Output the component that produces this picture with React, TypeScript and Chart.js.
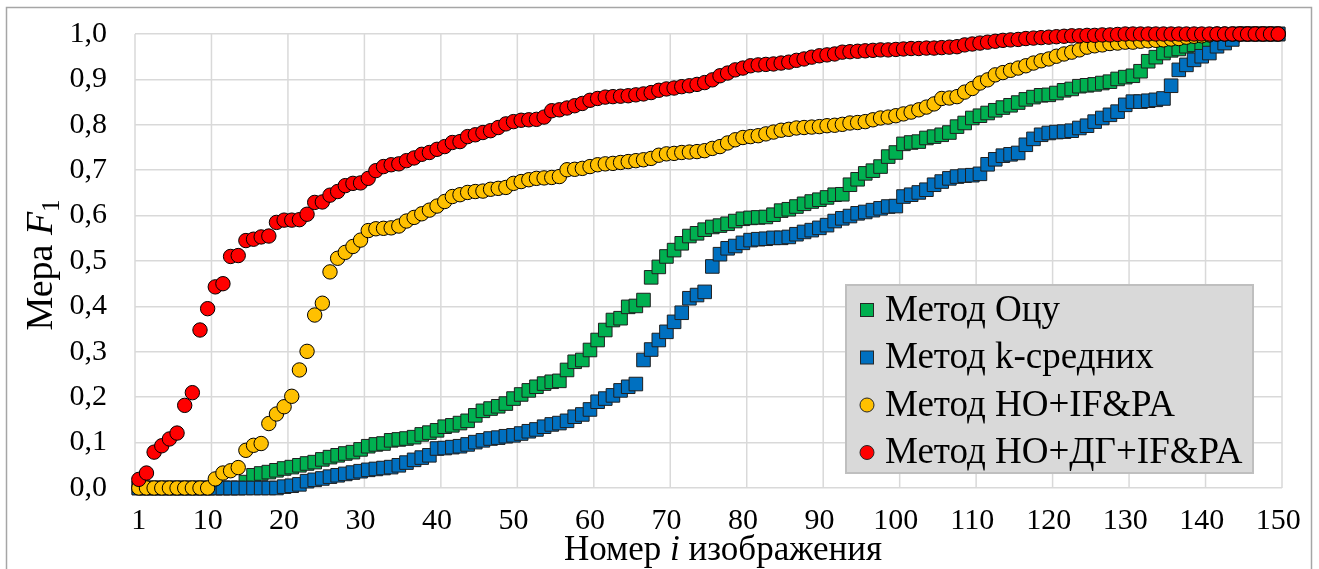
import React, { useEffect, useRef } from 'react';
import { Chart, registerables } from 'chart.js';

Chart.register(...registerables);

const FONT = '"Liberation Serif"';

// x categories: image numbers 1..150
const imageNumbers: number[] = Array.from({ length: 150 }, (_, i) => i + 1);

const xTickValues = [1, 10, 20, 30, 40, 50, 60, 70, 80, 90, 100, 110, 120, 130, 140, 150];
const xGridValues = [0.5, 10.5, 20.5, 30.5, 40.5, 50.5, 60.5, 70.5, 80.5, 90.5, 100.5, 110.5, 120.5, 130.5, 140.5, 150.5];

const seriesNames = ['Метод Оцу', 'Метод k-средних', 'Метод НО+IF&PA', 'Метод НО+ДГ+IF&PA'];
const seriesColors = ['#00b050', '#0070c0', '#ffc000', '#ff0000'];

const otsu = [
  0, 0, 0, 0, 0, 0, 0, 0, 0, 0,
  0, 0, 0, 0, 0.013, 0.028, 0.032, 0.035, 0.039, 0.043,
  0.046, 0.050, 0.054, 0.057, 0.063, 0.068, 0.072, 0.076, 0.079, 0.085,
  0.092, 0.096, 0.098, 0.105, 0.107, 0.109, 0.112, 0.118, 0.122, 0.127,
  0.135, 0.138, 0.143, 0.148, 0.160, 0.170, 0.175, 0.180, 0.186, 0.197,
  0.206, 0.215, 0.223, 0.230, 0.234, 0.236, 0.260, 0.278, 0.282, 0.304,
  0.326, 0.348, 0.370, 0.374, 0.399, 0.401, 0.414, 0.464, 0.487, 0.510,
  0.524, 0.539, 0.555, 0.561, 0.569, 0.575, 0.578, 0.582, 0.588, 0.593,
  0.595, 0.596, 0.597, 0.602, 0.611, 0.614, 0.620, 0.626, 0.631, 0.635,
  0.640, 0.646, 0.647, 0.668, 0.680, 0.693, 0.699, 0.708, 0.730, 0.739,
  0.758, 0.761, 0.763, 0.771, 0.774, 0.778, 0.783, 0.796, 0.804, 0.815,
  0.820, 0.826, 0.832, 0.838, 0.843, 0.849, 0.856, 0.861, 0.865, 0.866,
  0.870, 0.876, 0.879, 0.885, 0.887, 0.889, 0.892, 0.895, 0.901, 0.905,
  0.908, 0.918, 0.940, 0.949, 0.958, 0.964, 0.967, 0.973, 0.976, 0.979,
  0.984, 0.988, 0.991, 0.995, 1, 1, 1, 1, 1, 1,
];

const kMeans = [
  0, 0, 0, 0, 0, 0, 0, 0, 0, 0,
  0, 0, 0, 0, 0, 0, 0, 0, 0, 0.003,
  0.005, 0.008, 0.015, 0.018, 0.021, 0.025, 0.028, 0.031, 0.034, 0.037,
  0.040, 0.042, 0.044, 0.046, 0.050, 0.056, 0.062, 0.067, 0.072, 0.087,
  0.088, 0.090, 0.092, 0.096, 0.101, 0.105, 0.109, 0.111, 0.114, 0.116,
  0.120, 0.125, 0.129, 0.135, 0.140, 0.143, 0.148, 0.157, 0.162, 0.173,
  0.190, 0.197, 0.204, 0.215, 0.223, 0.229, 0.282, 0.305, 0.326, 0.344,
  0.366, 0.386, 0.418, 0.425, 0.432, 0.488, 0.515, 0.528, 0.533, 0.540,
  0.546, 0.548, 0.549, 0.551, 0.551, 0.553, 0.559, 0.564, 0.568, 0.573,
  0.579, 0.588, 0.594, 0.599, 0.605, 0.608, 0.612, 0.616, 0.620, 0.621,
  0.642, 0.646, 0.651, 0.657, 0.668, 0.675, 0.682, 0.686, 0.688, 0.689,
  0.692, 0.713, 0.724, 0.732, 0.735, 0.738, 0.756, 0.769, 0.778, 0.782,
  0.784, 0.785, 0.787, 0.793, 0.798, 0.807, 0.815, 0.822, 0.829, 0.844,
  0.851, 0.851, 0.853, 0.855, 0.858, 0.886, 0.921, 0.932, 0.943, 0.951,
  0.958, 0.973, 0.980, 0.988, 1, 1, 1, 1, 1, 1,
];

const hoIfPa = [
  0, 0, 0, 0, 0, 0, 0, 0, 0, 0,
  0.020, 0.033, 0.038, 0.045, 0.083, 0.094, 0.098, 0.142, 0.163, 0.179,
  0.202, 0.260, 0.301, 0.381, 0.407, 0.476, 0.506, 0.519, 0.532, 0.546,
  0.567, 0.571, 0.572, 0.573, 0.577, 0.588, 0.596, 0.604, 0.612, 0.621,
  0.631, 0.642, 0.646, 0.651, 0.653, 0.654, 0.658, 0.660, 0.662, 0.671,
  0.675, 0.679, 0.682, 0.683, 0.684, 0.686, 0.701, 0.702, 0.704, 0.708,
  0.712, 0.714, 0.715, 0.717, 0.719, 0.721, 0.723, 0.726, 0.733, 0.736,
  0.737, 0.739, 0.740, 0.741, 0.743, 0.748, 0.752, 0.760, 0.767, 0.772,
  0.774, 0.776, 0.780, 0.784, 0.788, 0.790, 0.793, 0.794, 0.795, 0.796,
  0.798, 0.799, 0.801, 0.804, 0.805, 0.807, 0.811, 0.815, 0.817, 0.820,
  0.824, 0.828, 0.833, 0.839, 0.846, 0.858, 0.859, 0.862, 0.872, 0.880,
  0.892, 0.899, 0.910, 0.915, 0.920, 0.925, 0.930, 0.936, 0.941, 0.945,
  0.951, 0.956, 0.960, 0.965, 0.971, 0.974, 0.976, 0.979, 0.980, 0.982,
  0.982, 0.984, 0.985, 0.986, 0.987, 0.989, 0.990, 0.993, 0.995, 0.996,
  0.998, 1, 1, 1, 1, 1, 1, 1, 1, 1,
];

const hoDgIfPa = [
  0.019, 0.033, 0.079, 0.093, 0.108, 0.121, 0.182, 0.210, 0.348, 0.395,
  0.443, 0.450, 0.510, 0.512, 0.545, 0.548, 0.553, 0.555, 0.585, 0.590,
  0.590, 0.591, 0.603, 0.629, 0.630, 0.645, 0.653, 0.666, 0.671, 0.672,
  0.682, 0.699, 0.708, 0.712, 0.714, 0.721, 0.727, 0.735, 0.739, 0.746,
  0.752, 0.761, 0.763, 0.774, 0.778, 0.783, 0.787, 0.794, 0.802, 0.807,
  0.810, 0.811, 0.812, 0.817, 0.831, 0.833, 0.837, 0.842, 0.847, 0.854,
  0.858, 0.861, 0.862, 0.863, 0.864, 0.866, 0.868, 0.871, 0.876, 0.879,
  0.881, 0.884, 0.886, 0.889, 0.893, 0.899, 0.908, 0.914, 0.921, 0.925,
  0.930, 0.932, 0.933, 0.934, 0.936, 0.938, 0.942, 0.945, 0.949, 0.952,
  0.954, 0.956, 0.960, 0.961, 0.962, 0.963, 0.964, 0.965, 0.965, 0.966,
  0.967, 0.968, 0.968, 0.969, 0.969, 0.970, 0.971, 0.972, 0.976, 0.978,
  0.980, 0.982, 0.984, 0.986, 0.987, 0.988, 0.990, 0.991, 0.992, 0.993,
  0.994, 0.995, 0.996, 0.996, 0.997, 0.997, 0.998, 0.998, 0.999, 1,
  1, 1, 1, 1, 1, 1, 1, 1, 1, 1,
  1, 1, 1, 1, 1, 1, 1, 1, 1, 1,
];

const seriesValues = [otsu, kMeans, hoIfPa, hoDgIfPa];
const seriesShapes = ['rect', 'rect', 'circle', 'circle'];

function drawRich(ctx: CanvasRenderingContext2D, parts: { t: string; f: string; dy?: number }[], cx: number, y: number) {
  let total = 0;
  for (const p of parts) { ctx.font = p.f; total += ctx.measureText(p.t).width; }
  let x = cx - total / 2;
  for (const p of parts) {
    ctx.font = p.f;
    ctx.fillText(p.t, x, y + (p.dy || 0));
    x += ctx.measureText(p.t).width;
  }
}

const decorPlugin = {
  id: 'decor',
  beforeDraw(chart: any) {
    const ctx: CanvasRenderingContext2D = chart.ctx;
    ctx.save();
    ctx.fillStyle = '#ffffff';
    ctx.fillRect(0, 0, chart.width, chart.height);
    ctx.strokeStyle = '#a6a6a6';
    ctx.lineWidth = 1.5;
    ctx.strokeRect(6.5, 7.5, 1305, 620);
    ctx.restore();
  },
  beforeDatasetsDraw(chart: any) {
    const ctx: CanvasRenderingContext2D = chart.ctx;
    const xs = chart.scales.x;
    const { top, bottom } = chart.chartArea;
    ctx.save();
    ctx.strokeStyle = '#d9d9d9';
    ctx.lineWidth = 1.5;
    for (const v of xGridValues) {
      const px = xs.getPixelForValue(v);
      ctx.beginPath();
      ctx.moveTo(px, top);
      ctx.lineTo(px, bottom);
      ctx.stroke();
    }
    ctx.restore();
  },
  afterDatasetsDraw(chart: any) {
    const ctx: CanvasRenderingContext2D = chart.ctx;
    const { right, bottom } = chart.chartArea;
    // legend box inside the plot area
    const bx = right - 436, by = bottom - 203, bw = 407, bh = 188;
    ctx.save();
    ctx.fillStyle = '#d9d9d9';
    ctx.fillRect(bx, by, bw, bh);
    ctx.strokeStyle = '#bfbfbf';
    ctx.lineWidth = 2;
    ctx.strokeRect(bx, by, bw, bh);
    ctx.textBaseline = 'middle';
    ctx.textAlign = 'left';
    seriesNames.forEach((name, i) => {
      const cy = by + 25 + i * 47.5;
      const mx = bx + 21;
      ctx.fillStyle = seriesColors[i];
      ctx.strokeStyle = '#262626';
      ctx.lineWidth = 1;
      if (seriesShapes[i] === 'rect') {
        ctx.fillRect(mx - 6.5, cy - 6.5, 13, 13);
        ctx.strokeRect(mx - 6.5, cy - 6.5, 13, 13);
      } else {
        ctx.beginPath();
        ctx.arc(mx, cy, 7, 0, Math.PI * 2);
        ctx.fill();
        ctx.stroke();
      }
      ctx.fillStyle = '#000';
      ctx.font = `37px ${FONT}`;
      ctx.fillText(name, bx + 39, cy + 1);
    });
    ctx.restore();
  },
  afterDraw(chart: any) {
    const ctx: CanvasRenderingContext2D = chart.ctx;
    const { top, bottom } = chart.chartArea;
    ctx.save();
    ctx.fillStyle = '#000';
    ctx.textBaseline = 'alphabetic';
    ctx.textAlign = 'left';
    // x title
    drawRich(ctx, [
      { t: 'Номер ', f: `35px ${FONT}` },
      { t: 'i', f: `italic 35px ${FONT}` },
      { t: ' изображения', f: `35px ${FONT}` },
    ], 723, 560);
    // y title
    ctx.translate(52, (top + bottom) / 2 + 4);
    ctx.rotate(-Math.PI / 2);
    drawRich(ctx, [
      { t: 'Мера ', f: `38px ${FONT}` },
      { t: 'F', f: `italic 38px ${FONT}` },
      { t: '1', f: `25px ${FONT}`, dy: 7 },
    ], 0, 0);
    ctx.restore();
  },
};

export default function App() {
  const canvasRef = useRef<HTMLCanvasElement | null>(null);

  useEffect(() => {
    const canvas = canvasRef.current;
    if (!canvas) return;
    let chart: Chart | null = null;
    let cancelled = false;

    const build = () => {
      if (cancelled) return;
      const datasets = seriesNames.map((name, i) => ({
        label: name,
        data: imageNumbers.map((n, k) => ({ x: n, y: seriesValues[i][k] })),
        pointStyle: seriesShapes[i],
        pointRadius: seriesShapes[i] === 'rect' ? 9.6 : 7.2,
        pointHoverRadius: seriesShapes[i] === 'rect' ? 9.6 : 7.2,
        backgroundColor: seriesColors[i],
        borderColor: i < 2 ? '#1f1f1f' : '#000000',
        pointBorderWidth: 1,
        borderWidth: 1,
        showLine: false,
        clip: false,
        order: 3 - i,
      }));
      chart = new Chart(canvas, {
        type: 'scatter',
        data: { datasets },
        options: {
          animation: false,
          responsive: false,
          maintainAspectRatio: false,
          devicePixelRatio: 1,
          layout: { padding: { left: 0, top: 34, right: 37, bottom: 0 } },
          plugins: { legend: { display: false }, tooltip: { enabled: false } },
          events: [],
          scales: {
            x: {
              type: 'linear',
              min: 0.5,
              max: 150.5,
              afterBuildTicks: (s: any) => { s.ticks = xTickValues.map((v) => ({ value: v })); },
              afterFit: (s: any) => { s.height = 81; s.paddingLeft = 0; s.paddingRight = 0; },
              ticks: {
                autoSkip: false,
                maxRotation: 0,
                minRotation: 0,
                padding: 15,
                color: '#000',
                font: { family: FONT, size: 30 },
                callback: (v: any) => String(v),
              },
              grid: { display: false, drawTicks: false },
              border: { display: false },
            },
            y: {
              min: 0,
              max: 1,
              afterFit: (s: any) => { s.width = 135; s.paddingTop = 0; s.paddingBottom = 0; },
              ticks: {
                stepSize: 0.1,
                padding: 28,
                color: '#000',
                font: { family: FONT, size: 30 },
                callback: (v: any) => Number(v).toFixed(1).replace('.', ','),
              },
              grid: { color: '#d9d9d9', lineWidth: 1.5, drawTicks: false },
              border: { display: false },
            },
          },
        },
        plugins: [decorPlugin],
      } as any);
    };

    const fontsApi = (document as any).fonts;
    if (fontsApi && fontsApi.load) {
      Promise.all([
        fontsApi.load(`30px ${FONT}`),
        fontsApi.load(`italic 35px ${FONT}`),
      ]).then(build, build);
    } else {
      build();
    }

    return () => {
      cancelled = true;
      if (chart) chart.destroy();
    };
  }, []);

  return (
    <div style={{ position: 'absolute', left: 0, top: 0, width: 1319, height: 569, background: '#fff' }}>
      <canvas ref={canvasRef} width={1319} height={569} style={{ display: 'block', width: 1319, height: 569 }} />
    </div>
  );
}
